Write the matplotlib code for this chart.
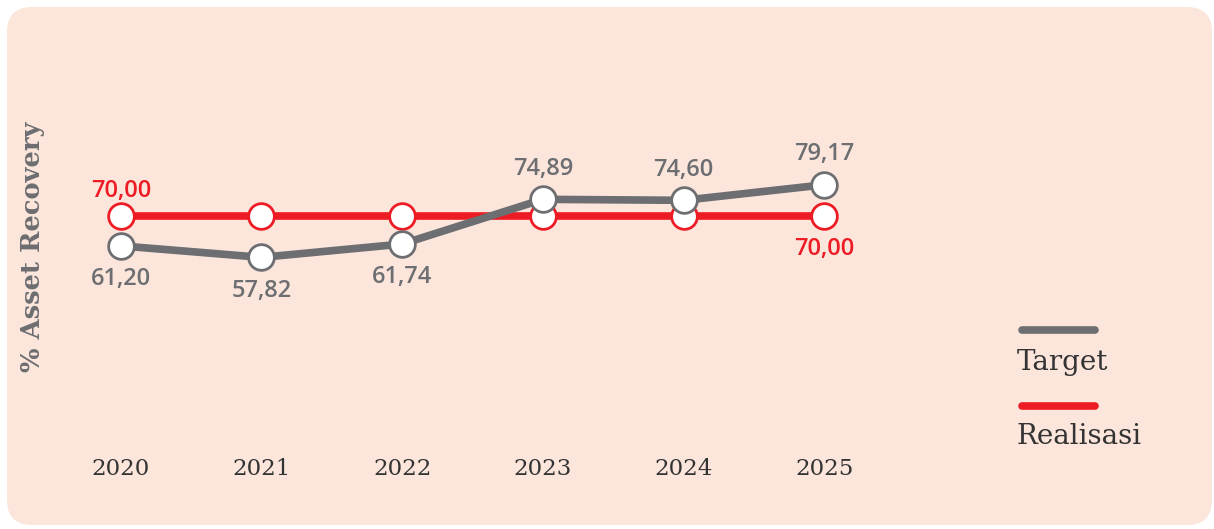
import matplotlib
matplotlib.use("Agg")
import matplotlib.pyplot as plt
from matplotlib.patches import FancyBboxPatch
from matplotlib.lines import Line2D

years = ["2020", "2021", "2022", "2023", "2024", "2025"]
target = [61.20, 57.82, 61.74, 74.89, 74.60, 79.17]
realisasi = [70.00, 70.00, 70.00, 70.00, 70.00, 70.00]
series_names = ["Target", "Realisasi"]
y_label = "% Asset Recovery"

GRAY = "#6D6E71"
RED = "#ED1C24"
BG = "#FCE6DC"
TXT = "#333333"

W, H = 1214, 529
fig = plt.figure(figsize=(W / 100, H / 100), dpi=100)
fig.patch.set_facecolor("white")

bg = FancyBboxPatch((0.07, 0.04), 12.05, 5.18,
                    boxstyle="round,pad=0,rounding_size=0.25",
                    transform=fig.dpi_scale_trans, facecolor=BG, edgecolor="none",
                    zorder=-5)
fig.patches.append(bg)

ax = fig.add_axes([80 / W, 1 - 440 / H, 785 / W, 290 / H])
ax.set_facecolor("none")
ax.set_zorder(2)
x = list(range(len(years)))

def fmt(v):
    return f"{v:.2f}".replace(".", ",")

ax.plot(x, target, color=GRAY, lw=5.5, marker="o", ms=18.5, mfc="white",
        mec=GRAY, mew=2, zorder=3, solid_capstyle="round")
ax.plot(x, realisasi, color=RED, lw=5.5, marker="o", ms=18.5, mfc="white",
        mec=RED, mew=2, zorder=2, solid_capstyle="round")

ax.set_xlim(-0.29, 5.29)
ax.set_ylim(4.1, 89.4)
ax.set_xticks(x)
ax.set_xticklabels(years, family="DejaVu Serif", fontsize=16.5, color=TXT)
ax.tick_params(axis="x", length=0, pad=13)
ax.set_yticks([])
for s in ax.spines.values():
    s.set_visible(False)

LBL_FONT = "Open Sans"
# Value labels
above_target = [False, False, False, True, True, True]
for xi, v, up in zip(x, target, above_target):
    ax.annotate(fmt(v), (xi, v), xytext=(0, 22 if up else -24),
                textcoords="offset points", ha="center", va="center",
                fontsize=17, fontweight="semibold", color=GRAY, family=LBL_FONT)
red_label_idx = {0: 18, 5: -24}
for xi, off in red_label_idx.items():
    ax.annotate(fmt(realisasi[xi]), (xi, realisasi[xi]), xytext=(0, off),
                textcoords="offset points", ha="center", va="center",
                fontsize=17, fontweight="semibold", color=RED, family=LBL_FONT)

fig.text(33 / W, 1 - 247 / H, y_label, rotation=90, ha="center", va="center",
         fontsize=18.5, fontweight="bold", color=GRAY, family="DejaVu Serif")

# Legend
for (name, col, ly, ty) in [(series_names[0], GRAY, 330, 362),
                            (series_names[1], RED, 406, 436)]:
    fig.add_artist(Line2D([1022 / W, 1095 / W], [1 - ly / H, 1 - ly / H],
                          transform=fig.transFigure, color=col, lw=5.5,
                          solid_capstyle="round"))
    fig.text(1017 / W, 1 - ty / H, name, ha="left", va="center",
             fontsize=20, color=TXT, family="DejaVu Serif")

fig.savefig("out.png", dpi=100, facecolor="white")
